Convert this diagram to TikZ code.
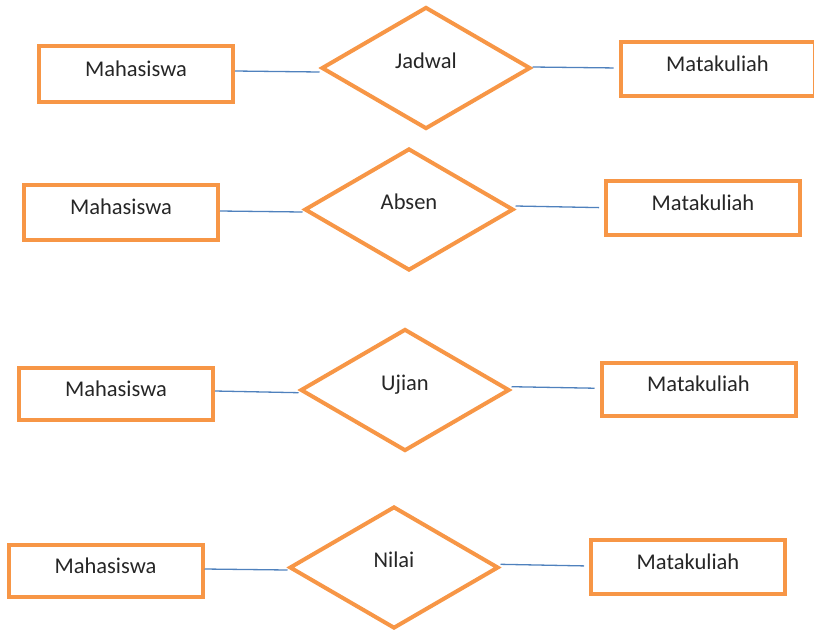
\documentclass[tikz,border=0pt]{standalone}
\usepackage{fontspec}
\setmainfont{Carlito}
\usetikzlibrary{shapes.geometric}
\definecolor{erorange}{HTML}{F79646}
\definecolor{erblue}{HTML}{4F81BD}
\definecolor{ertext}{HTML}{262626}

\begin{document}
\begin{tikzpicture}[x=1pt,y=-1pt,
  erfont/.style={font=\fontsize{22.5}{27}\selectfont, text=ertext},
  entity/.style={erfont, rectangle, draw=erorange, line width=4pt,
    minimum width=194pt, minimum height=54pt, inner sep=0pt,
    text height=15pt, text depth=11pt},
  relation/.style={erfont, diamond, draw=erorange, line width=4pt,
    minimum width=209pt, minimum height=122pt, inner sep=0pt,
    text height=15pt, text depth=15pt},
  link/.style={draw=erblue, line width=1.3pt},
  linkr/.style={link, shorten >=5pt}]

\path[use as bounding box, clip] (0,0) rectangle (814,630);

% Row 1: Jadwal
\node[entity, minimum height=56pt] (m1) at (136,74) {Mahasiswa};
\node[relation] (d1) at (426,68) {Jadwal};
\node[entity] (k1) at (717.5,69) {Matakuliah};
\draw[link] ([yshift=3pt]m1.east) -- ([yshift=-4pt]d1.west);
\draw[linkr] ([yshift=1pt]d1.east) -- ([yshift=1pt]k1.west);

% Row 2: Absen
\node[entity, minimum height=55pt] (m2) at (121,212.5) {Mahasiswa};
\node[relation] (d2) at (409,209.5) {Absen};
\node[entity] (k2) at (703,208) {Matakuliah};
\draw[link] ([yshift=1.5pt]m2.east) -- ([yshift=-2.5pt]d2.west);
\draw[linkr] ([yshift=3.5pt]d2.east) -- ([yshift=0.3pt]k2.west);

% Row 3: Ujian
\node[entity, minimum height=52pt] (m3) at (116,394) {Mahasiswa};
\node[relation] (d3) at (405,390) {Ujian};
\node[entity, minimum height=53pt] (k3) at (698.5,389.5) {Matakuliah};
\draw[link] ([yshift=3pt]m3.east) -- ([yshift=-2.7pt]d3.west);
\draw[linkr] ([yshift=3.3pt]d3.east) -- ([yshift=1.2pt]k3.west);

% Row 4: Nilai
\node[entity, minimum height=52pt] (m4) at (105.5,571) {Mahasiswa};
\node[relation] (d4) at (394,567.5) {Nilai};
\node[entity] (k4) at (688,567) {Matakuliah};
\draw[link] ([yshift=2pt]m4.east) -- ([yshift=-2.5pt]d4.west);
\draw[linkr] ([yshift=3.2pt]d4.east) -- ([yshift=1pt]k4.west);
\end{tikzpicture}
\end{document}
